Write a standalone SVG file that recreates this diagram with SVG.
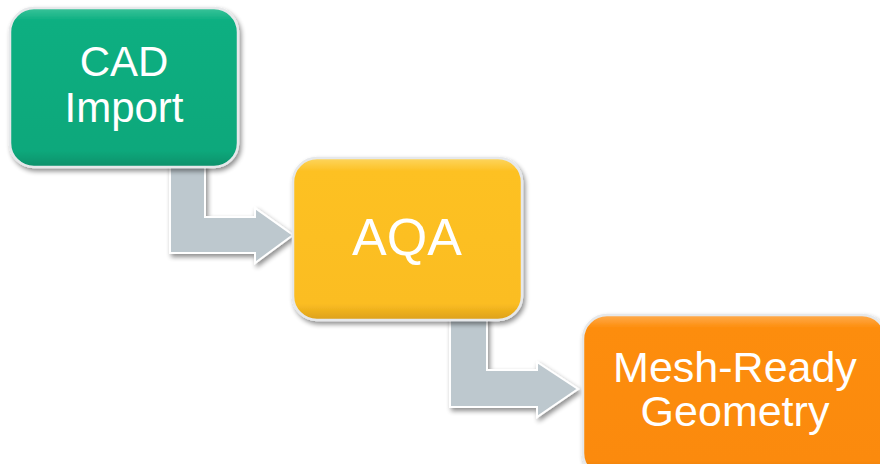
<svg xmlns="http://www.w3.org/2000/svg" width="880" height="464" viewBox="0 0 880 464">
<defs>
<filter id="sh" x="-20%" y="-20%" width="140%" height="140%">
<feGaussianBlur in="SourceAlpha" stdDeviation="2.5"/>
<feOffset dx="2" dy="3" result="b"/>
<feComponentTransfer><feFuncA type="linear" slope="0.45"/></feComponentTransfer>
<feMerge><feMergeNode/><feMergeNode in="SourceGraphic"/></feMerge>
</filter>
<linearGradient id="gG" x1="0" y1="0" x2="0" y2="1">
<stop offset="0" stop-color="#3cc49a"/><stop offset="0.08" stop-color="#0caf81"/><stop offset="0.9" stop-color="#0aa87b"/><stop offset="1" stop-color="#08906a"/>
</linearGradient>
<linearGradient id="gY" x1="0" y1="0" x2="0" y2="1">
<stop offset="0" stop-color="#fdd660"/><stop offset="0.08" stop-color="#fdc124"/><stop offset="0.9" stop-color="#fbbd22"/><stop offset="1" stop-color="#dca01a"/>
</linearGradient>
<linearGradient id="gO" x1="0" y1="0" x2="0" y2="1">
<stop offset="0" stop-color="#ffac50"/><stop offset="0.08" stop-color="#fd8d0c"/><stop offset="0.9" stop-color="#fb8a08"/><stop offset="1" stop-color="#d87404"/>
</linearGradient>
<style>
.box{stroke:#e6e8ea;stroke-width:2.5;filter:url(#sh)}
.arr{fill:#bdc8ce;stroke:#ffffff;stroke-width:2;filter:url(#sh)}
.t{fill:#ffffff;font-family:"Liberation Sans",Arial,sans-serif;text-anchor:middle}
</style>
</defs>
<rect width="880" height="464" fill="#ffffff"/>
<g id="connectors">
<path class="arr" d="M170,160 L205,160 L205,217 L255,217 L255,208 L293,235 L255,263 L255,253 L170,253 Z"/>
<path class="arr" d="M450,312 L487,312 L487,370 L537,370 L537,362 L578,389 L537,417 L537,407 L450,407 Z"/>
</g>
<g id="cad-import">
<rect class="box" x="10" y="8" width="228" height="159" rx="24" fill="url(#gG)"/>
<text class="t" x="124" y="76" font-size="42">CAD</text>
<text class="t" x="124" y="122" font-size="42">Import</text>
</g>
<g id="aqa">
<rect class="box" x="293" y="158" width="229" height="162" rx="24" fill="url(#gY)"/>
<text class="t" x="407" y="255" font-size="52">AQA</text>
</g>
<g id="mesh-ready-geometry">
<rect class="box" x="583" y="315" width="303" height="162" rx="24" fill="url(#gO)"/>
<text class="t" x="735" y="382" font-size="43">Mesh-Ready</text>
<text class="t" x="735" y="426" font-size="43">Geometry</text>
</g>
</svg>
